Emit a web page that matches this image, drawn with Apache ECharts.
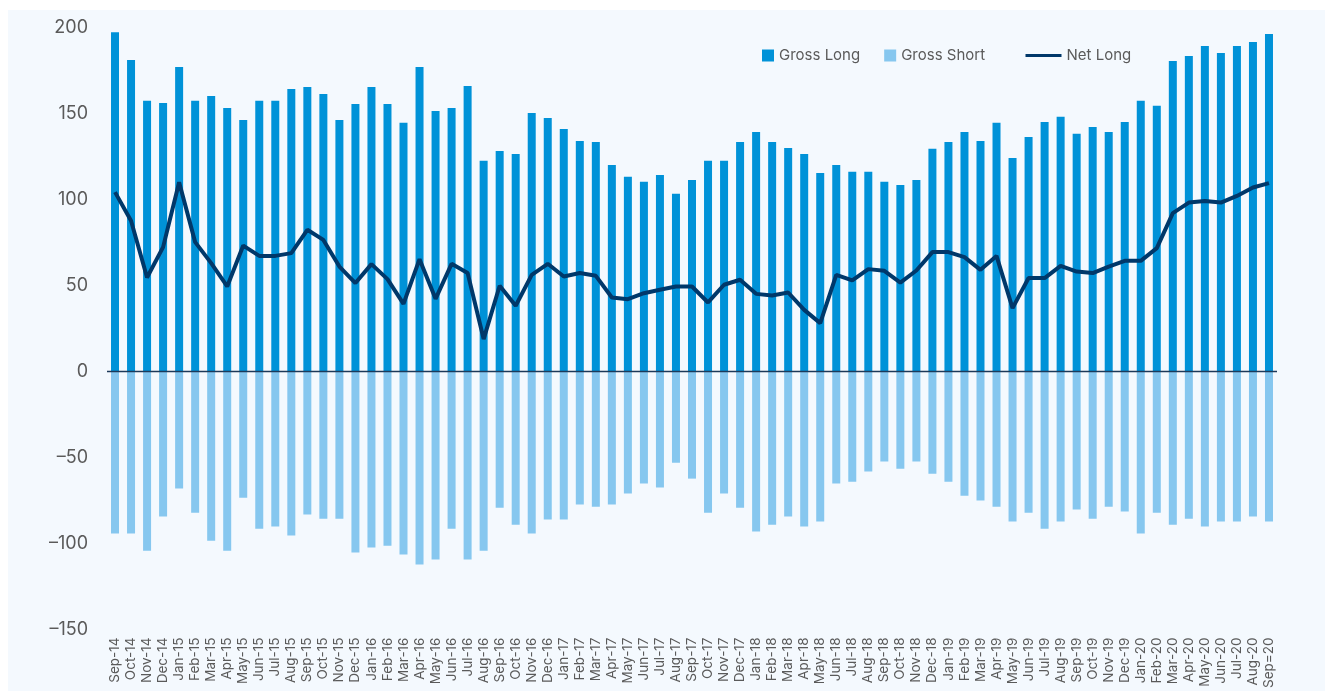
<!DOCTYPE html>
<html>
<head>
<meta charset="utf-8">
<script src="https://cdn.jsdelivr.net/npm/echarts@6/dist/echarts.min.js"></script>
<style>
html,body{margin:0;padding:0;background:#fff;}
#c{width:1325px;height:691px;}
</style>
</head>
<body>
<div id="c"></div>
<script>
const categories = ["Sep-14","Oct-14","Nov-14","Dec-14","Jan-15","Feb-15","Mar-15","Apr-15","May-15","Jun-15","Jul-15","Aug-15",
"Sep-15","Oct-15","Nov-15","Dec-15","Jan-16","Feb-16","Mar-16","Apr-16","May-16","Jun-16","Jul-16","Aug-16",
"Sep-16","Oct-16","Nov-16","Dec-16","Jan-17","Feb-17","Mar-17","Apr-17","May-17","Jun-17","Jul-17","Aug-17",
"Sep-17","Oct-17","Nov-17","Dec-17","Jan-18","Feb-18","Mar-18","Apr-18","May-18","Jun-18","Jul-18","Aug-18",
"Sep-18","Oct-18","Nov-18","Dec-18","Jan-19","Feb-19","Mar-19","Apr-19","May-19","Jun-19","Jul-19","Aug-19",
"Sep-19","Oct-19","Nov-19","Dec-19","Jan-20","Feb-20","Mar-20","Apr-20","May-20","Jun-20","Jul-20","Aug-20","Sep=20"];

const grossLong = [197.5,181.4,157.6,156.4,177.3,157.6,160.5,153.5,146.5,157.6,157.6,164.5,
165.7,161.6,146.5,155.8,165.7,155.8,144.8,177.3,151.7,153.5,166.3,122.7,
128.5,126.7,150.6,147.7,141.3,134.3,133.7,120.3,113.4,110.5,114.5,103.5,
111.6,122.7,122.7,133.7,139.5,133.7,130.2,126.7,115.7,120.3,116.3,116.3,
110.5,108.7,111.6,129.7,133.7,139.5,134.3,144.8,124.4,136.6,145.3,148.3,
138.4,142.4,139.5,145.3,157.6,154.7,180.8,183.7,189.5,185.5,189.5,191.9,196.5];

const grossShort = [-94.2,-94.2,-104.1,-84.3,-68.0,-82.0,-98.3,-104.1,-73.3,-91.3,-90.1,-95.3,
-83.1,-85.5,-85.5,-105.2,-102.3,-101.2,-106.4,-112.2,-109.3,-91.3,-109.3,-104.1,
-79.1,-89.0,-94.2,-86.0,-86.0,-77.3,-78.5,-77.3,-70.9,-65.1,-67.4,-52.9,
-62.2,-82.0,-70.9,-79.1,-93.0,-89.0,-84.3,-90.1,-87.2,-65.1,-64.0,-58.1,
-52.3,-56.4,-52.3,-59.3,-64.0,-72.1,-75.0,-78.5,-87.2,-82.0,-91.3,-87.2,
-80.2,-85.5,-78.5,-81.4,-94.2,-82.0,-89.0,-85.5,-90.1,-87.2,-87.2,-84.3,-87.2];

const netLong = [104.5,87.8,54.8,72.5,110.3,75.4,63.2,49.6,73.4,67.4,67.4,69.0,
82.6,76.7,61.2,51.6,62.6,53.9,39.5,65.5,42.4,62.8,57.4,19.0,
50.0,38.4,56.4,62.8,55.4,57.4,55.8,43.2,42.2,45.7,47.7,49.6,
49.6,40.3,50.6,53.5,45.3,44.4,46.1,36.0,28.3,56.4,53.1,59.7,
58.7,51.9,58.9,69.6,69.6,66.7,59.3,67.4,37.0,54.5,54.5,61.6,
58.3,57.4,61.2,64.5,64.5,71.9,92.3,98.4,99.4,98.4,102.3,107.2,109.7];

const yTicks = {min:-150, max:200, interval:50};

const chart = echarts.init(document.getElementById('c'));
const FONT = 'Inter, "Open Sans", sans-serif';
const legendText = {fontSize:15, color:'#5a5a5a', fontFamily:FONT};
chart.setOption({
  backgroundColor:'#ffffff',
  animation:false,
  textStyle:{fontFamily:FONT},
  graphic:[{type:'rect', z:-10, silent:true, shape:{x:8,y:10,width:1317,height:681}, style:{fill:'#f4f9fe'}}],
  legend:[{
    top:48, left:762, padding:0, itemGap:24, itemWidth:12, itemHeight:12,
    textStyle:legendText,
    data:[{name:'Gross Long', icon:'rect'},{name:'Gross Short', icon:'rect'}]
  },{
    top:48, left:1024, padding:0, itemWidth:36, itemHeight:12,
    textStyle:legendText,
    data:[{name:'Net Long', lineStyle:{width:3}, itemStyle:{opacity:0}}]
  }],
  grid:{left:107, right:48, top:28, bottom:61, containLabel:false},
  xAxis:{
    type:'category', data:categories,
    axisLine:{show:false, onZero:false},
    axisTick:{show:false},
    axisLabel:{rotate:90, interval:0, fontSize:13.5, color:'#5a5a5a', margin:8, fontFamily:FONT}
  },
  yAxis:{
    type:'value', min:yTicks.min, max:yTicks.max, interval:yTicks.interval,
    splitLine:{show:false}, axisLine:{show:false}, axisTick:{show:false},
    axisLabel:{fontSize:18, color:'#5a5a5a', margin:19, fontFamily:FONT,
      formatter: v => String(v).replace('-', '\u2013')}
  },
  series:[
    {name:'Gross Long', type:'bar', data:grossLong, barWidth:8, barGap:'-100%', itemStyle:{color:'#0092d8'},
     markLine:{silent:true, symbol:'none', label:{show:false}, lineStyle:{color:'#1c3a5a', width:1.3, type:'solid'}, data:[{yAxis:0}], z:5}},
    {name:'Gross Short', type:'bar', data:grossShort, barWidth:8, barGap:'-100%', itemStyle:{color:'#86c7ef'}},
    {name:'Net Long', type:'line', data:netLong, symbol:'none', lineStyle:{color:'#00386a', width:4}, itemStyle:{color:'#00386a'}, z:10}
  ]
});
</script>
</body>
</html>
